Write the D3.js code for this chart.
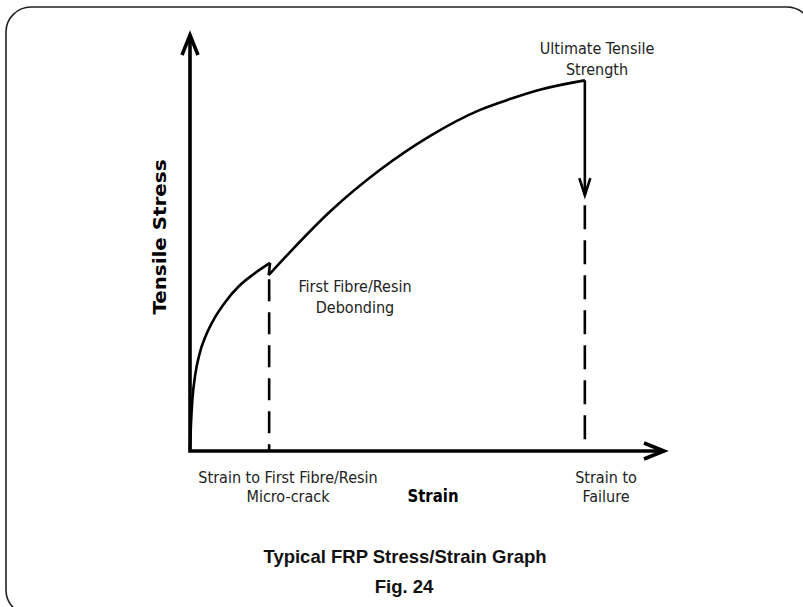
<!DOCTYPE html>
<html>
<head>
<meta charset="utf-8">
<script src="https://cdn.jsdelivr.net/npm/d3@7"></script>
<style>
  body { margin: 0; background: #fff; }
  svg { display: block; }
  .lbl { font-family: "Liberation Sans Narrow", "DejaVu Sans Condensed", "Roboto", sans-serif; font-stretch: condensed; font-size: 16px; fill: #222; }
  .bold { font-weight: bold; fill: #000; }
  .cap { font-family: "Liberation Sans", Arial, sans-serif; font-weight: bold; font-size: 18.5px; fill: #111; }
</style>
</head>
<body>
<div class="container"></div>
<script>
// strain (x) / stress (y) in arbitrary units, 0..100 on each axis
var elasticStrain = [0, 0.2, 0.5, 1.1, 2.0, 3.4, 5.2, 7.5, 10.3, 13.4, 16.9];
var elasticStress = [0, 6.3, 12.3, 18.3, 23.3, 27.9, 32.0, 35.9, 39.6, 42.5, 45.2];
var crackStrain = [16.9, 16.6];
var crackStress = [45.2, 42.3];
var plasticStrain = [16.6, 21.5, 29.5, 40.1, 50.6, 61.2, 67.5, 74.0, 83.3];
var plasticStress = [42.3, 48.3, 57.5, 67.6, 75.7, 82.0, 84.6, 86.9, 89.1];
var failureStrain = 83.3;
var failureDrop = [89.1, 61.5];
var microCrackStrain = 16.7;
var microCrackTop = 41.3;
var failureDashTop = 59.1;
var axisMax = 100;

const WIDTH = 803;
const HEIGHT = 607;

var xScale = d3.scaleLinear().domain([0, 100]).range([190, 664]);
var yScale = d3.scaleLinear().domain([0, 100]).range([451, 35]);

var zip = function(xs, ys) {
	return xs.map(function(x, i) { return [x, ys[i]]; });
}

var svg = d3.select('.container').append('svg')
	.attr('width', WIDTH)
	.attr('height', HEIGHT);

// frame
svg.append('rect')
	.attr('x', 6).attr('y', 7)
	.attr('width', 806).attr('height', 608)
	.attr('rx', 25).attr('ry', 25)
	.attr('fill', 'none')
	.attr('stroke', '#222')
	.attr('stroke-width', 1.6);

var g = svg.append('g');

var line = d3.line()
	.x(function(d) { return xScale(d[0]); })
	.y(function(d) { return yScale(d[1]); });

var smooth = d3.line()
	.curve(d3.curveMonotoneX)
	.x(function(d) { return xScale(d[0]); })
	.y(function(d) { return yScale(d[1]); });

// dashed guide lines
g.append('path')
	.attr('d', line([[microCrackStrain, microCrackTop], [microCrackStrain, 0]]))
	.attr('stroke', '#000').attr('stroke-width', 2.6)
	.attr('stroke-dasharray', '22,11').attr('fill', 'none');

g.append('path')
	.attr('d', line([[failureStrain, failureDashTop], [failureStrain, 0]]))
	.attr('stroke', '#000').attr('stroke-width', 2.6)
	.attr('stroke-dasharray', '24,11').attr('fill', 'none');

// axes
g.append('path')
	.attr('d', line([[0, axisMax], [0, 0], [axisMax, 0]]))
	.attr('stroke', '#000').attr('stroke-width', 3.6)
	.attr('fill', 'none').attr('stroke-linejoin', 'miter');

var ox = xScale(0), oy = yScale(0);
var yTip = yScale(axisMax), xTip = xScale(axisMax);
g.append('path')
	.attr('d', 'M' + (ox - 8) + ',' + (yTip + 20) + 'L' + ox + ',' + yTip + 'L' + (ox + 8) + ',' + (yTip + 20))
	.attr('stroke', '#000').attr('stroke-width', 3.6).attr('fill', 'none');
g.append('path')
	.attr('d', 'M' + (xTip - 20) + ',' + (oy - 8) + 'L' + xTip + ',' + oy + 'L' + (xTip - 20) + ',' + (oy + 8))
	.attr('stroke', '#000').attr('stroke-width', 3.6).attr('fill', 'none');

// stress/strain curve
g.append('path')
	.attr('d', smooth(zip(elasticStrain, elasticStress)))
	.attr('stroke', '#000').attr('stroke-width', 2.6).attr('fill', 'none');
g.append('path')
	.attr('d', line(zip(crackStrain, crackStress)))
	.attr('stroke', '#000').attr('stroke-width', 2.6).attr('fill', 'none');
g.append('path')
	.attr('d', smooth(zip(plasticStrain, plasticStress)))
	.attr('stroke', '#000').attr('stroke-width', 2.6).attr('fill', 'none');

// failure drop with arrow
var fx = xScale(failureStrain);
var fTip = yScale(failureDrop[1]);
g.append('path')
	.attr('d', line([[failureStrain, failureDrop[0]], [failureStrain, failureDrop[1]]]))
	.attr('stroke', '#000').attr('stroke-width', 2.6).attr('fill', 'none');
g.append('path')
	.attr('d', 'M' + (fx - 5.5) + ',' + (fTip - 17) + 'L' + fx + ',' + fTip + 'L' + (fx + 5.5) + ',' + (fTip - 17))
	.attr('stroke', '#000').attr('stroke-width', 2.6).attr('fill', 'none');

// labels
var addText = function(x, y, lines, cls, gap) {
	var t = svg.append('text')
		.attr('class', cls)
		.attr('text-anchor', 'middle');
	lines.forEach(function(s, i) {
		t.append('tspan').attr('x', x).attr('y', y + i * gap).text(s);
	});
	return t;
}

addText(597, 54, ['Ultimate Tensile', 'Strength'], 'lbl', 21);
addText(355, 292, ['First Fibre/Resin', 'Debonding'], 'lbl', 21);
addText(288, 483, ['Strain to First Fibre/Resin', 'Micro-crack'], 'lbl', 19);
addText(606, 483, ['Strain to', 'Failure'], 'lbl', 19);

svg.append('text')
	.attr('class', 'lbl bold')
	.attr('text-anchor', 'middle')
	.attr('x', 433).attr('y', 502)
	.attr('textLength', 51).attr('lengthAdjust', 'spacingAndGlyphs')
	.style('font-size', '18px')
	.text('Strain');

svg.append('text')
	.attr('class', 'lbl bold')
	.attr('text-anchor', 'middle')
	.attr('transform', 'translate(166,237) rotate(-90)')
	.attr('textLength', 155).attr('lengthAdjust', 'spacingAndGlyphs')
	.style('font-size', '18.5px')
	.text('Tensile Stress');

addText(405, 563, ['Typical FRP Stress/Strain Graph'], 'cap', 0);
addText(404, 593, ['Fig. 24'], 'cap', 0);
</script>
</body>
</html>
